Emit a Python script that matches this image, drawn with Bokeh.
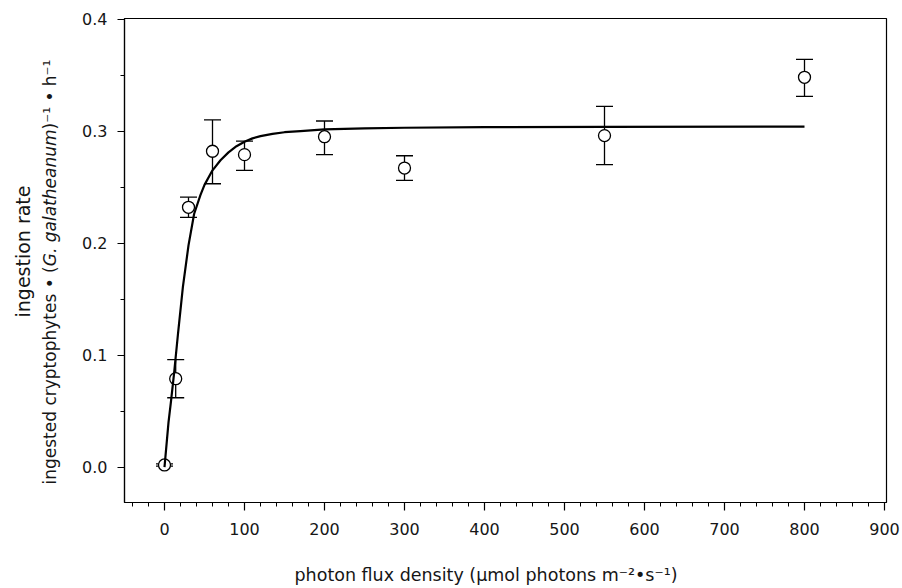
import math
from bokeh.plotting import figure
from bokeh.layouts import row
from bokeh.models import (Range1d, FixedTicker, Whisker, TeeHead, ColumnDataSource,
                          Label, PrintfTickFormatter)
from bokeh.embed import file_html
from bokeh.resources import INLINE

# ---- data ----
light = [0, 14, 30, 60, 100, 200, 300, 550, 800]
rate = [0.002, 0.079, 0.232, 0.282, 0.279, 0.295, 0.267, 0.296, 0.348]
rate_upper = [0.003, 0.096, 0.241, 0.310, 0.291, 0.309, 0.278, 0.322, 0.364]
rate_lower = [0.001, 0.062, 0.223, 0.253, 0.265, 0.279, 0.256, 0.270, 0.331]

fit_light = [0, 3, 5, 8, 12, 17, 23, 30, 37, 45, 50, 60, 70, 80, 90, 100, 110, 120, 135,
             150, 170, 200, 250, 300, 400, 550, 800]
fit_rate = [0.0, 0.024, 0.040, 0.058, 0.084, 0.120, 0.161, 0.198, 0.226, 0.243, 0.252,
            0.265, 0.274, 0.281, 0.2865, 0.2905, 0.2935, 0.2955, 0.2975, 0.299, 0.300,
            0.3015, 0.3025, 0.303, 0.3035, 0.3038, 0.304]

x_ticks = [0, 100, 200, 300, 400, 500, 600, 700, 800, 900]
x_minor = [-40, -20, 20, 40, 60, 80, 120, 140, 160, 180, 220, 240, 260, 280, 320, 340,
           360, 380, 420, 440, 460, 480, 520, 540, 560, 580, 620, 640, 660, 680, 720,
           740, 760, 780, 820, 840, 860, 880]
y_ticks = [0.0, 0.1, 0.2, 0.3, 0.4]
y_minor = [0.05, 0.15, 0.25, 0.35]

x_title = "photon flux density (\u00b5mol photons m\u207b\u00b2\u2022s\u207b\u00b9)"
y_title_1 = "ingestion rate"
y_title_2 = ["ingested cryptophytes \u2022 (", "G. galatheanum", ")\u207b\u00b9 \u2022 h\u207b\u00b9"]

FONT = "DejaVu Sans"
TXT = "#161616"

LEFT_W = 64                 # narrow figure holding the two-line y-axis title
F_TOP, F_BOTTOM = 18, 502   # page rows of the plot frame

p = figure(width=902 - LEFT_W, height=588, x_range=Range1d(-50, 902.5),
           y_range=Range1d(-0.0315, 0.4005), output_backend="svg",
           toolbar_location=None, min_border_left=124 - LEFT_W, min_border_right=16,
           min_border_top=F_TOP, min_border_bottom=588 - F_BOTTOM)
p.xgrid.visible = False
p.ygrid.visible = False
p.outline_line_color = "black"
p.outline_line_width = 1.2
p.outline_line_alpha = 1.0
p.background_fill_color = "white"
p.border_fill_color = "white"

for ax in (p.xaxis[0], p.yaxis[0]):
    ax.axis_line_width = 1.2
    ax.axis_line_color = "black"
    ax.major_tick_line_color = "black"
    ax.minor_tick_line_color = "black"
    ax.major_tick_line_width = 1.2
    ax.minor_tick_line_width = 1.0
    ax.major_tick_in = 0
    ax.minor_tick_in = 0
    ax.major_label_text_font = FONT
    ax.major_label_text_font_size = "16px"
    ax.major_label_text_color = TXT

p.xaxis.ticker = FixedTicker(ticks=x_ticks, minor_ticks=x_minor)
p.xaxis.formatter = PrintfTickFormatter(format="%d")
p.xaxis.major_tick_out = 8
p.xaxis.minor_tick_out = 4
p.xaxis.major_label_standoff = 12
# trailing no-break spaces shift the centred title a little to the left, as in the reference
p.xaxis.axis_label = x_title + "\u00a0" * 7
p.xaxis.axis_label_text_font = FONT
p.xaxis.axis_label_text_font_size = "17.5px"
p.xaxis.axis_label_text_font_style = "normal"
p.xaxis.axis_label_text_color = TXT
p.xaxis.axis_label_standoff = 27

p.yaxis.ticker = FixedTicker(ticks=y_ticks, minor_ticks=y_minor)
p.yaxis.formatter = PrintfTickFormatter(format="%.1f")
p.yaxis.major_tick_out = 7
p.yaxis.minor_tick_out = 4
p.yaxis.major_label_standoff = 10

src = ColumnDataSource(dict(x=light, y=rate, upper=rate_upper, lower=rate_lower))
whisk = Whisker(base="x", upper="upper", lower="lower", source=src,
                line_color="black", line_width=1.3,
                upper_head=TeeHead(size=17, line_color="black", line_width=1.3),
                lower_head=TeeHead(size=17, line_color="black", line_width=1.3))
p.add_layout(whisk)

p.scatter("x", "y", source=src, size=12, marker="circle", fill_color="white",
          line_color="black", line_width=1.3)
p.line(fit_light, fit_rate, line_color="black", line_width=2.2)

# ---- y axis title: a narrow figure whose frame is aligned with the plot frame;
#      its ranges are page pixels ----
t = figure(width=LEFT_W, height=588, x_range=Range1d(0, LEFT_W),
           y_range=Range1d(F_BOTTOM, F_TOP),
           x_axis_type=None, y_axis_type=None, output_backend="svg",
           toolbar_location=None, min_border_left=0, min_border_right=0,
           min_border_top=F_TOP, min_border_bottom=588 - F_BOTTOM)
t.xgrid.visible = False
t.ygrid.visible = False
t.outline_line_color = None
t.background_fill_color = "white"
t.border_fill_color = "white"

t.add_layout(Label(x=22, y=251, text=y_title_1, angle=math.pi / 2,
                   text_align="center", text_baseline="middle", text_font=FONT,
                   text_font_size="19px", text_color=TXT))

fs2 = 17
start = 484
wA = 12.84 * fs2
wB = 8.046 * fs2
styles = ["normal", "italic", "normal"]
starts = [start, start - wA, start - wA - wB]
for txt, style, py in zip(y_title_2, styles, starts):
    t.add_layout(Label(x=49, y=py, text=txt, angle=math.pi / 2,
                       text_align="left", text_baseline="middle", text_font=FONT,
                       text_font_size=f"{fs2}px", text_font_style=style,
                       text_color=TXT))

layout = row(t, p, spacing=0)
open("out.html", "w").write(file_html(layout, INLINE))
